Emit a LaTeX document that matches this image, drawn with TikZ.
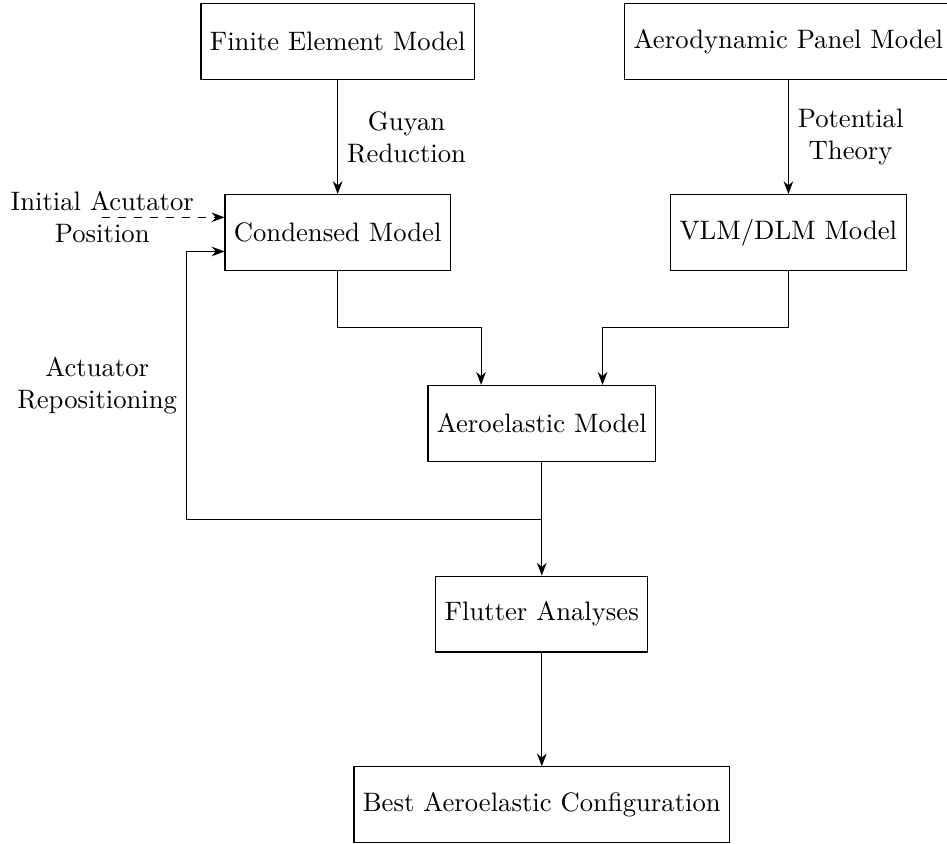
\documentclass[tikz,border=0pt]{standalone}
\usetikzlibrary{positioning,arrows.meta}
\tikzstyle{blk}=[draw,rectangle,minimum height=1cm]
\tikzstyle{lbl}=[align=center]
\begin{document}
\begin{tikzpicture}[node distance=1.5cm,>=Stealth]
\useasboundingbox (-4.45,0.55) rectangle (8.03,-10.57);
\node[blk] (fem) at (0,0) {Finite Element Model};
\node[blk] (apm) at (5.94,0) {Aerodynamic Panel Model};
\node[blk,below=of fem] (cond) {Condensed Model};
\node[blk,below=of apm] (vlm) {VLM/DLM Model};
\node[blk,below=of cond,xshift=2.69cm] (aero) {Aeroelastic Model};
\node[blk,below=of aero] (flut) {Flutter Analyses};
\node[blk,below=of flut] (best) {Best Aeroelastic Configuration};
\node[lbl] (init) at ([xshift=-1.61cm,yshift=0.2cm]cond.west) {Initial Acutator\\Position};
\coordinate (split) at ([yshift=-0.76cm]aero.south);
\coordinate (back) at ([xshift=-0.5cm,yshift=-0.25cm]cond.west);
\draw[->] (fem) -- node[lbl,right]{Guyan\\Reduction} (cond);
\draw[->] (apm) -- node[lbl,right]{Potential\\Theory} (vlm);
\draw[->,dashed] (init.center) -- (init.center -| cond.west);
\draw[->] (cond.south) -- ++(0,-0.75) -| ([xshift=-0.8cm]aero.north);
\draw[->] (vlm.south) -- ++(0,-0.75) -| ([xshift=0.8cm]aero.north);
\draw[->] (aero) -- (flut);
\draw[->] (split) -- (split -| back) -- node[lbl,left]{Actuator\\Repositioning} (back) -- (back -| cond.west);
\draw[->] (flut) -- (best);
\end{tikzpicture}
\end{document}
